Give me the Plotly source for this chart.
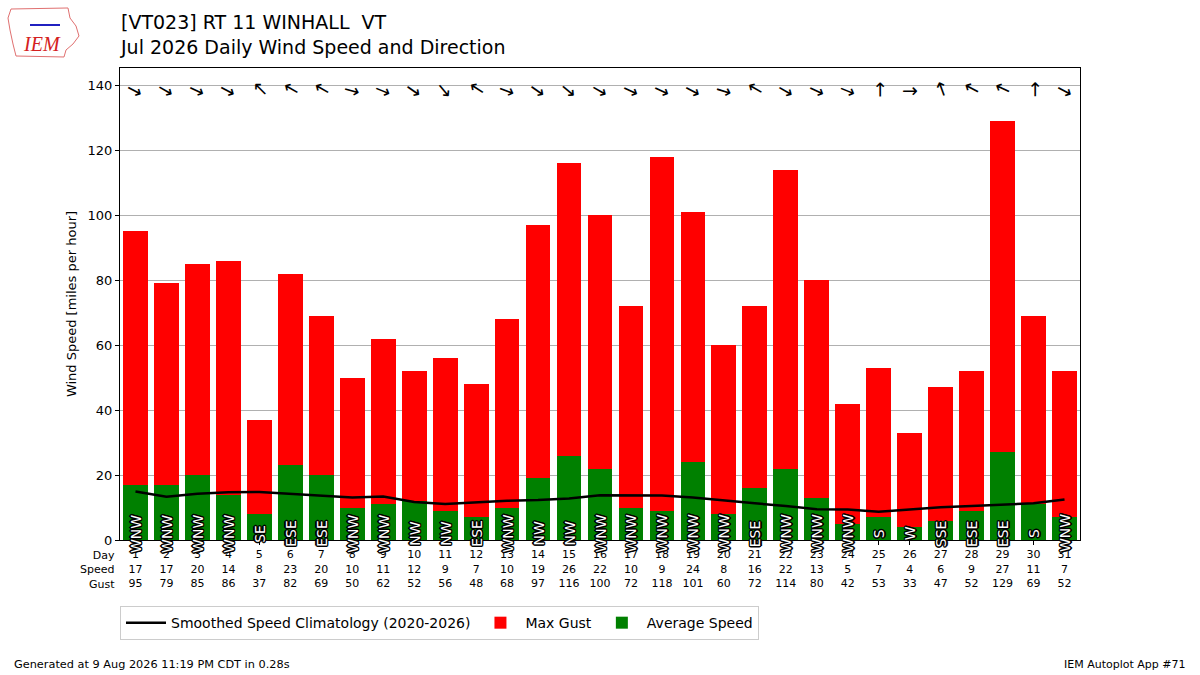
import plotly.graph_objects as go

# daily values
days = list(range(1, 32))
avg_speed = [17, 17, 20, 14, 8, 23, 20, 10, 11, 12, 9, 7, 10, 19, 26, 22,
             10, 9, 24, 8, 16, 22, 13, 5, 7, 4, 6, 9, 27, 11, 7]
max_gust = [95, 79, 85, 86, 37, 82, 69, 50, 62, 52, 56, 48, 68, 97, 116, 100,
            72, 118, 101, 60, 72, 114, 80, 42, 53, 33, 47, 52, 129, 69, 52]
dir_text = ["WNW", "WNW", "WNW", "WNW", "SE", "ESE", "ESE", "WNW", "WNW", "NW",
            "NW", "ESE", "WNW", "NW", "NW", "WNW", "WNW", "WNW", "WNW", "WNW",
            "ESE", "WNW", "WNW", "WNW", "S", "W", "SSE", "ESE", "ESE", "S", "WNW"]
dir_deg = [298, 300, 295, 298, 135, 120, 120, 285, 292, 305, 320, 123, 290,
           305, 310, 300, 295, 295, 298, 287, 120, 300, 295, 292, 180, 270,
           160, 118, 115, 180, 298]
clim_speed = [14.9, 13.3, 14.2, 14.7, 14.8, 14.2, 13.7, 13.1, 13.4, 11.7, 11.1,
              11.7, 12.1, 12.3, 12.8, 13.8, 13.8, 13.7, 13.1, 12.1, 11.3, 10.5,
              9.5, 9.4, 8.7, 9.4, 10.1, 10.5, 10.9, 11.3, 12.5]


def px2paper(px, py):
    # page pixels -> paper coords of the 960x472 plot area at (120, 68)
    return (px - 120) / 960, (540 - py) / 472


fig = go.Figure()
fig.add_trace(go.Bar(x=days, y=max_gust, width=0.8, marker_color="red",
                     marker_line_width=0, name="Max Gust", legendrank=2))
fig.add_trace(go.Bar(x=days, y=avg_speed, width=0.8, marker_color="green",
                     marker_line_width=0, name="Average Speed", legendrank=3))
fig.add_trace(go.Scatter(x=days, y=clim_speed, mode="lines",
                         line=dict(color="black", width=2.5), legendrank=1,
                         name="Smoothed Speed Climatology (2020-2026)"))

ann = []
outline = ", ".join(f"{dx}px {dy}px 0 #000" for dx, dy in
                    [(1, 1), (-1, -1), (1, -1), (-1, 1), (1, 0), (-1, 0), (0, 1), (0, -1),
                     (1.5, 0), (-1.5, 0), (0, 1.5), (0, -1.5)])
for d, txt, deg in zip(days, dir_text, dir_deg):
    ann.append(dict(x=d, y=2, xref="x", yref="y", text=txt, showarrow=False,
                    textangle=-90, xanchor="center", yanchor="middle",
                    font=dict(family="DejaVu Sans", size=14, color="white",
                              shadow=outline)))
    rot = (deg + 90) % 360
    if rot > 180:
        rot -= 360
    ann.append(dict(x=d, y=138.6, xref="x", yref="y", text="→", showarrow=False,
                    textangle=rot, xanchor="center", yanchor="middle",
                    font=dict(family="DejaVu Sans", size=19, color="black")))

ann.append(dict(x=0, y=0, xref="paper", yref="paper", xshift=-3, yshift=-7,
                text="Day<br>Speed<br>Gust", showarrow=False, align="right",
                xanchor="right", yanchor="top",
                font=dict(family="DejaVu Sans", size=11, color="black")))
ann.append(dict(x=0, y=1, xref="paper", yref="paper", xshift=-2, yshift=59,
                text="[VT023] RT 11 WINHALL  VT<br>Jul 2026 Daily Wind Speed and Direction",
                showarrow=False, align="left", xanchor="left", yanchor="top",
                font=dict(family="DejaVu Sans", size=19, color="black")))

fx, fy = px2paper(12, 664)
ann.append(dict(x=fx, y=fy, xref="paper", yref="paper",
                text="Generated at 9 Aug 2026 11:19 PM CDT in 0.28s",
                showarrow=False, xanchor="left", yanchor="middle",
                font=dict(family="DejaVu Sans", size=11.3, color="black")))
fx, fy = px2paper(1188, 664)
ann.append(dict(x=fx, y=fy, xref="paper", yref="paper", text="IEM Autoplot App #71",
                showarrow=False, xanchor="right", yanchor="middle",
                font=dict(family="DejaVu Sans", size=11, color="black")))
fx, fy = px2paper(42, 44)
ann.append(dict(x=fx, y=fy, xref="paper", yref="paper", text="<i>IEM</i>",
                showarrow=False, xanchor="center", yanchor="middle",
                font=dict(family="Liberation Serif", size=20, color="#d42020")))

# rough outline of the IEM logo (Iowa shape)
logo_pts = [(11, 9), (68, 8), (70, 18), (76, 26), (79, 36), (73, 44), (66, 50),
            (64, 57), (16, 56), (13, 44), (10, 30), (8, 18)]
path = "M " + " L ".join("{:.5f},{:.5f}".format(*px2paper(x, y)) for x, y in logo_pts) + " Z"
shapes = [dict(type="path", path=path, xref="paper", yref="paper",
               line=dict(color="#e07070", width=1))]
# vane in the logo
vx0, vy0 = px2paper(30, 25)
vx1, vy1 = px2paper(60, 25)
shapes.append(dict(type="line", xref="paper", yref="paper", x0=vx0, y0=vy0,
                   x1=vx1, y1=vy1, line=dict(color="#2020c0", width=2)))

tick_text = [f"{d}<br>{s}<br>{g}" for d, s, g in zip(days, avg_speed, max_gust)]

fig.update_layout(
    width=1200, height=675,
    margin=dict(l=120, r=120, t=68, b=135),
    paper_bgcolor="white", plot_bgcolor="white",
    barmode="overlay", bargap=0,
    font=dict(family="DejaVu Sans", size=13, color="black"),
    annotations=ann,
    shapes=shapes,
    showlegend=True,
    legend=dict(orientation="h", x=0, xanchor="left", y=-0.14, yanchor="top",
                bordercolor="#cccccc", borderwidth=1,
                font=dict(family="DejaVu Sans", size=14), traceorder="normal",
                itemwidth=40),
    xaxis=dict(range=[0.5, 31.5], tickvals=days, ticktext=tick_text,
               ticks="outside", ticklen=4, tickcolor="black", showgrid=False,
               showline=True, linecolor="black", linewidth=1, mirror=True,
               tickfont=dict(size=11), zeroline=False, automargin=False),
    yaxis=dict(range=[0, 145.3], tickvals=list(range(0, 141, 20)),
               ticks="outside", ticklen=4, tickcolor="black",
               showgrid=True, gridcolor="#b0b0b0", gridwidth=1,
               showline=True, linecolor="black", linewidth=1, mirror=True,
               zeroline=False, tickfont=dict(size=13), automargin=False,
               title=dict(text="Wind Speed [miles per hour]",
                          font=dict(size=13), standoff=8)),
)

fig.write_html("out.html", config={"displayModeBar": False},
               post_script="document.body.style.margin='0';")
